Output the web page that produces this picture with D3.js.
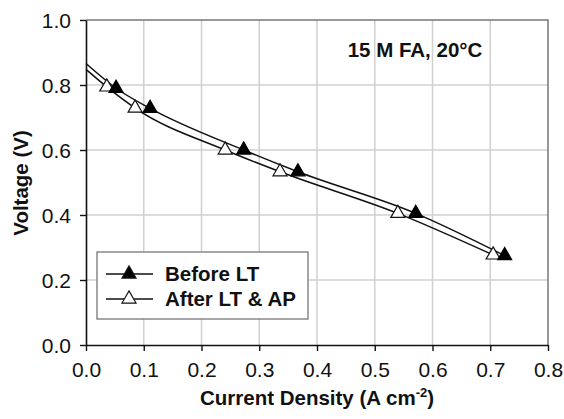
<!DOCTYPE html>
<html>
<head>
<meta charset="utf-8">
<script src="https://cdn.jsdelivr.net/npm/d3@7"></script>
<style>
  body { margin: 0; background: #fff; }
  text { font-family: "Liberation Sans", Arial, sans-serif; }
</style>
</head>
<body>
<svg id="chart" width="564" height="419"></svg>
<script>
// measured points
const beforeX = [0.052, 0.111, 0.273, 0.367, 0.571, 0.725];
const beforeY = [0.790, 0.728, 0.600, 0.533, 0.405, 0.275];
const afterX = [0.036, 0.085, 0.241, 0.336, 0.540, 0.705];
const afterY = [0.794, 0.729, 0.600, 0.533, 0.405, 0.277];

// fit lines start at the voltage axis
const beforeFitX = [0, 0.052, 0.111, 0.273, 0.367, 0.571, 0.725];
const beforeFitY = [0.866, 0.790, 0.728, 0.600, 0.533, 0.405, 0.275];
const afterFitX = [0, 0.036, 0.085, 0.241, 0.336, 0.540, 0.705];
const afterFitY = [0.848, 0.794, 0.729, 0.600, 0.533, 0.405, 0.277];

const xTicks = [0, 0.1, 0.2, 0.3, 0.4, 0.5, 0.6, 0.7, 0.8];
const yTicks = [0, 0.2, 0.4, 0.6, 0.8, 1.0];
const legendLabels = ["Before LT", "After LT & AP"];

var margin = {left: 86, right: 16, top: 20, bottom: 74};
var width = 564, height = 419;

var svg = d3.select("#chart");

var x = d3.scaleLinear().domain([0, 0.8]).range([margin.left, width - margin.right]);
var y = d3.scaleLinear().domain([0, 1.0]).range([height - margin.bottom, margin.top]);

function zip(xs, ys) {
  return xs.map(function(v, i) { return {x: v, y: ys[i]}; });
}

// grid
svg.append("g").selectAll("line")
  .data(xTicks.slice(1, -1))
  .enter().append("line")
  .attr("x1", d => x(d)).attr("x2", d => x(d))
  .attr("y1", y(0)).attr("y2", y(1))
  .attr("stroke", "#d0d0d0").attr("stroke-width", 1.5);

svg.append("g").selectAll("line")
  .data(yTicks.slice(1, -1))
  .enter().append("line")
  .attr("x1", x(0)).attr("x2", x(0.8))
  .attr("y1", d => y(d)).attr("y2", d => y(d))
  .attr("stroke", "#d0d0d0").attr("stroke-width", 1.5);

// top / right frame
svg.append("path")
  .attr("d", "M" + x(0) + "," + y(1) + "H" + x(0.8) + "V" + y(0))
  .attr("fill", "none").attr("stroke", "#777").attr("stroke-width", 1.5);

// axes
var xAxis = svg.append("g")
  .attr("transform", "translate(0," + y(0) + ")")
  .call(d3.axisBottom(x).tickValues(xTicks).tickFormat(d3.format(".1f")).tickSize(6).tickSizeOuter(0));
var yAxis = svg.append("g")
  .attr("transform", "translate(" + x(0) + ",0)")
  .call(d3.axisLeft(y).tickValues(yTicks).tickFormat(d3.format(".1f")).tickSize(6).tickSizeOuter(0));

[xAxis, yAxis].forEach(function(a) {
  a.select(".domain").attr("stroke", "#111").attr("stroke-width", 1.6);
  a.selectAll(".tick line").attr("stroke", "#111").attr("stroke-width", 1.4);
  a.selectAll("text")
    .style("font-family", "'Liberation Sans', Arial, sans-serif")
    .style("font-size", "21px")
    .attr("fill", "#111");
});
xAxis.selectAll("text").attr("dy", "1.1em");
yAxis.selectAll("text").attr("x", -15).attr("dy", "0.35em");

// fit lines
var line = d3.line().x(d => x(d.x)).y(d => y(d.y)).curve(d3.curveMonotoneX);

svg.append("path")
  .datum(zip(beforeFitX, beforeFitY))
  .attr("d", line)
  .attr("fill", "none").attr("stroke", "#111").attr("stroke-width", 1.5);
svg.append("path")
  .datum(zip(afterFitX, afterFitY))
  .attr("d", line)
  .attr("fill", "none").attr("stroke", "#111").attr("stroke-width", 1.5);

// markers
var tri = d3.symbol().type(d3.symbolTriangle).size(85);

svg.append("g").selectAll("path")
  .data(zip(afterX, afterY))
  .enter().append("path")
  .attr("d", tri)
  .attr("transform", d => "translate(" + x(d.x) + "," + y(d.y) + ")")
  .attr("fill", "#fff").attr("stroke", "#111").attr("stroke-width", 1.2);

svg.append("g").selectAll("path")
  .data(zip(beforeX, beforeY))
  .enter().append("path")
  .attr("d", tri)
  .attr("transform", d => "translate(" + x(d.x) + "," + y(d.y) + ")")
  .attr("fill", "#000").attr("stroke", "#000").attr("stroke-width", 1.2);

// annotation
svg.append("text")
  .attr("x", 415).attr("y", 57)
  .attr("text-anchor", "middle")
  .style("font-size", "20.5px").style("font-weight", "bold")
  .attr("fill", "#111")
  .text("15 M FA, 20\u00B0C");

// legend
var lg = svg.append("g").attr("transform", "translate(97,252)");
lg.append("rect")
  .attr("width", 211).attr("height", 67)
  .attr("fill", "#fff").attr("stroke", "#777").attr("stroke-width", 1.3);

legendLabels.forEach(function(label, i) {
  var cy = 22 + i * 25;
  lg.append("line")
    .attr("x1", 9).attr("x2", 56).attr("y1", cy).attr("y2", cy)
    .attr("stroke", "#111").attr("stroke-width", 1.5);
  lg.append("path")
    .attr("d", tri)
    .attr("transform", "translate(32," + cy + ")")
    .attr("fill", i == 0 ? "#000" : "#fff")
    .attr("stroke", "#111").attr("stroke-width", 1.2);
  lg.append("text")
    .attr("x", 68).attr("y", cy + 7)
    .style("font-size", "20.5px").style("font-weight", "bold")
    .attr("fill", "#111")
    .text(label);
});

// axis titles
svg.append("text")
  .attr("transform", "translate(28,183) rotate(-90)")
  .attr("text-anchor", "middle")
  .style("font-size", "20.5px").style("font-weight", "bold")
  .attr("fill", "#111")
  .text("Voltage (V)");

var xt = svg.append("text")
  .attr("x", 317).attr("y", 405)
  .attr("text-anchor", "middle")
  .style("font-size", "20.5px").style("font-weight", "bold")
  .attr("fill", "#111");
xt.append("tspan").text("Current Density (A cm");
xt.append("tspan").attr("dy", -8).style("font-size", "13px").text("-2");
xt.append("tspan").attr("dy", 8).text(")");
</script>
</body>
</html>
